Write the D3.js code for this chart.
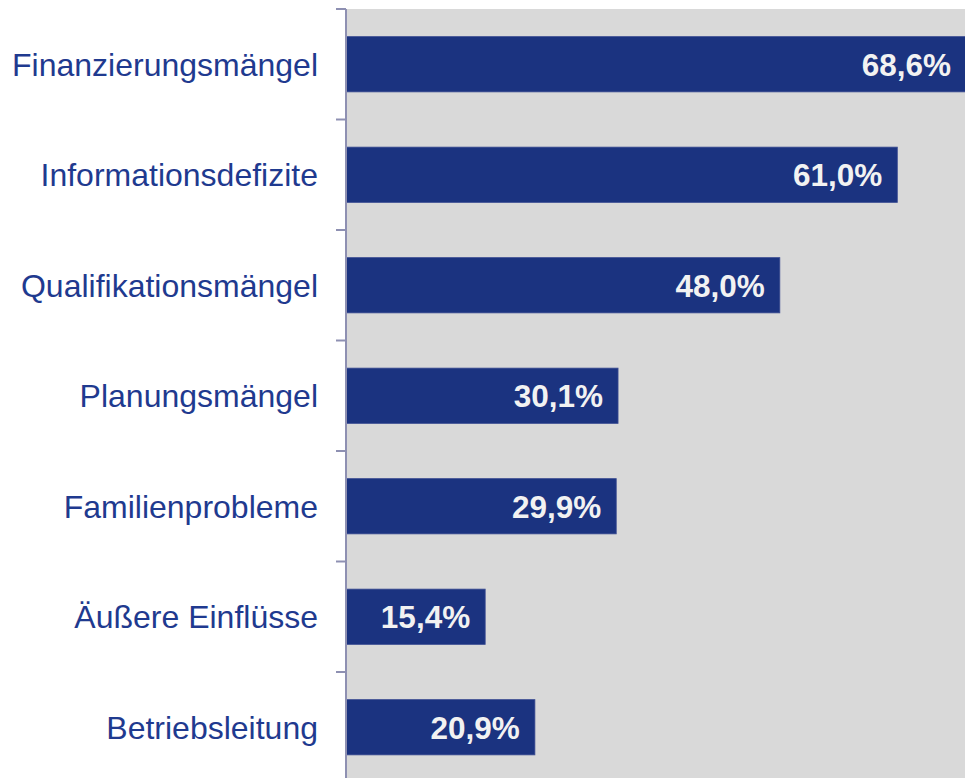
<!DOCTYPE html>
<html>
<head>
<meta charset="utf-8">
<script src="https://cdn.jsdelivr.net/npm/d3@7"></script>
<style>
  html, body { margin: 0; padding: 0; background: #fff; }
  svg { display: block; }
</style>
</head>
<body>
<svg id="chart"></svg>
<script>
// Data
const categories = [
  'Finanzierungsmängel',
  'Informationsdefizite',
  'Qualifikationsmängel',
  'Planungsmängel',
  'Familienprobleme',
  'Äußere Einflüsse',
  'Betriebsleitung'
];
const values = [68.6, 61.0, 48.0, 30.1, 29.9, 15.4, 20.9];
const valueLabels = ['68,6%', '61,0%', '48,0%', '30,1%', '29,9%', '15,4%', '20,9%'];

const width = 965;
const height = 778;
const margin = {top: 9, left: 346};

const svg = d3.select('#chart')
  .attr('width', width)
  .attr('height', height);

const x = d3.scaleLinear()
  .domain([0, 68.6])
  .range([margin.left, 966]);

const y = d3.scaleBand()
  .domain(categories)
  .range([margin.top, margin.top + 7 * 110.5])
  .paddingInner(0.5)
  .paddingOuter(0.25);

// grey plot background
svg.append('rect')
  .attr('x', margin.left)
  .attr('y', margin.top)
  .attr('width', width - margin.left)
  .attr('height', height - margin.top)
  .style('fill', '#d9d9d9');

// bars
svg.append('g')
  .selectAll('rect')
  .data(values)
  .join('rect')
  .attr('x', x(0))
  .attr('y', (d, i) => y(categories[i]))
  .attr('width', d => x(d) - x(0))
  .attr('height', y.bandwidth())
  .style('fill', '#1b3380')
  .style('stroke', '#3b4c92')
  .style('stroke-width', 0.8);

// value labels inside bars
svg.append('g')
  .selectAll('text')
  .data(values)
  .join('text')
  .attr('x', d => x(d) - 15)
  .attr('y', (d, i) => y(categories[i]) + y.bandwidth() / 2)
  .attr('dy', '0.36em')
  .attr('text-anchor', 'end')
  .style('font-family', 'Liberation Sans, Arial, sans-serif')
  .style('font-weight', 'bold')
  .style('font-size', '31.5px')
  .style('fill', '#f2f2f2')
  .text((d, i) => valueLabels[i]);

// category axis with ticks between the bands
const axis = svg.append('g').attr('class', 'y axis');
axis.append('line')
  .attr('x1', margin.left).attr('x2', margin.left)
  .attr('y1', margin.top).attr('y2', height)
  .style('stroke', '#8e90b2')
  .style('stroke-width', 2);

const tickPos = d3.range(categories.length + 1).map(i => margin.top + i * y.step());
axis.selectAll('.tick')
  .data(tickPos)
  .join('line')
  .attr('class', 'tick')
  .attr('x1', margin.left - 10).attr('x2', margin.left)
  .attr('y1', d => d).attr('y2', d => d)
  .style('stroke', '#8e90b2')
  .style('stroke-width', 2);

axis.selectAll('text')
  .data(categories)
  .join('text')
  .attr('x', 318)
  .attr('y', d => y(d) + y.bandwidth() / 2)
  .attr('dy', '0.36em')
  .attr('text-anchor', 'end')
  .style('font-family', 'Liberation Sans, Arial, sans-serif')
  .style('font-size', '32px')
  .style('fill', '#1f3a8f')
  .text(d => d);
</script>
</body>
</html>
